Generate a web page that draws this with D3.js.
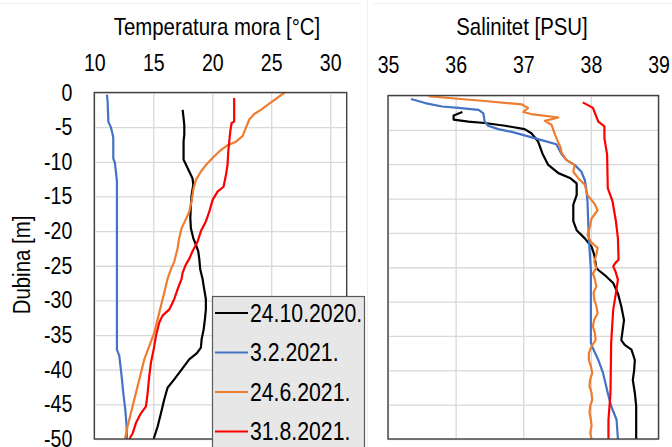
<!DOCTYPE html>
<html><head><meta charset="utf-8">
<script src="https://cdn.jsdelivr.net/npm/d3@7"></script>
<style>
html,body{margin:0;padding:0;background:#fff;}
svg text{font-family:"Liberation Sans",Arial,sans-serif;fill:#000;}
</style></head>
<body><svg id="c" width="672" height="447"></svg>
<script>
const seriesNames = ["24.10.2020.", "3.2.2021.", "24.6.2021.", "31.8.2021."];
const seriesColors = ["#000000", "#4472C4", "#ED7D31", "#FF0000"];
const tempTicks = [10, 15, 20, 25, 30];
const salTicks = [35, 36, 37, 38, 39];
const depthTicks = [0, -5, -10, -15, -20, -25, -30, -35, -40, -45, -50];

// [depth m, temperature °C]
const temp_24_10_2020 = [[-2.5,17.49],[-3.7,17.57],[-4.7,17.63],[-6.1,17.63],[-7,17.57],[-9.7,17.57],[-10.4,17.77],[-11.4,18.05],[-12.4,18.33],[-13.3,18.39],[-14.8,18.25],[-16.2,18.19],[-18.1,18.14],[-19.6,18.19],[-21,18.39],[-22,18.62],[-22.9,18.81],[-24,18.9],[-25.5,18.98],[-26.9,19.18],[-28.4,19.32],[-29.8,19.46],[-31.3,19.46],[-32.7,19.38],[-34.2,19.27],[-35.6,19.1],[-36.8,19.04],[-37.6,18.7],[-38.5,18.05],[-40,17.4],[-41.4,16.78],[-42.6,16.21],[-44.3,15.93],[-46.3,15.65],[-48.2,15.37],[-50,15.03]];
const temp_3_2_2021 = [[-0.3,11.07],[-1.3,11.13],[-4.2,11.19],[-5,11.4],[-6,11.55],[-6.6,11.61],[-9.5,11.61],[-10.2,11.75],[-12.8,11.92],[-25,11.92],[-37.1,11.92],[-38,12.12],[-41,12.32],[-43.4,12.46],[-45.8,12.63],[-48.2,12.74],[-50,12.77]];
const temp_24_6_2021 = [[0,26.16],[-0.4,25.82],[-1.1,25.25],[-1.8,24.69],[-2.5,24.12],[-3.1,23.56],[-3.9,23.14],[-5.1,22.85],[-6.3,22.57],[-7.1,22.01],[-7.6,21.3],[-8.3,20.73],[-9.2,20.17],[-10.2,19.6],[-11.4,19.04],[-12.6,18.62],[-13.8,18.42],[-15.7,18.25],[-17.2,18.05],[-18.6,17.68],[-19.6,17.4],[-21,17.2],[-22.5,17.06],[-24.4,16.78],[-25.5,16.5],[-26.9,16.21],[-28.9,15.93],[-30.8,15.65],[-32.7,15.37],[-34.7,15.08],[-36.6,14.66],[-38.5,14.24],[-40.5,13.95],[-42.4,13.67],[-44.3,13.39],[-46.2,13.11],[-48.2,12.82],[-50,12.6]];
const temp_31_8_2021 = [[-0.8,21.86],[-4.2,21.86],[-4.4,21.64],[-5.6,21.53],[-7.1,21.44],[-8.5,21.36],[-10.4,21.3],[-11.9,21.16],[-13.6,20.96],[-14.3,20.45],[-15.5,20.03],[-17.2,19.75],[-18.6,19.46],[-20,19.04],[-21.5,18.76],[-22.9,18.33],[-24,18.05],[-24.8,17.77],[-26,17.49],[-26.9,17.4],[-28.4,17.06],[-29.8,16.78],[-31.3,16.36],[-32.2,15.79],[-33.2,15.51],[-35.1,15.23],[-37.1,15.03],[-39,14.8],[-40.9,14.66],[-43.4,14.52],[-45.3,14.38],[-46.3,13.95],[-47.7,13.53],[-49.2,13.25],[-50,12.97]];

// [depth m, salinity PSU]
const sal_24_10_2020 = [[-2.4,36.1],[-2.9,35.97],[-3.5,35.97],[-3.8,36.19],[-4.0,36.43],[-4.4,36.73],[-4.9,37.02],[-5.5,37.12],[-6.7,37.22],[-8.6,37.29],[-10.1,37.37],[-11.3,37.52],[-12.0,37.69],[-12.8,37.79],[-14.5,37.79],[-15.9,37.74],[-18.3,37.74],[-19.6,37.79],[-20.8,37.91],[-22.0,38.01],[-23.2,38.05],[-25.1,38.08],[-25.4,38.11],[-26.1,38.2],[-27.3,38.33],[-28.8,38.4],[-30.7,38.45],[-32.7,38.49],[-35.6,38.45],[-36.3,38.5],[-37.0,38.6],[-38.5,38.65],[-40,38.64],[-41.4,38.62],[-43.3,38.65],[-45.2,38.67],[-50,38.67]];
const sal_3_2_2021 = [[-0.5,35.34],[-1.1,35.55],[-1.6,35.8],[-1.8,36.04],[-2.1,36.34],[-2.6,36.41],[-3.8,36.43],[-4.4,36.48],[-4.9,36.63],[-5.3,36.83],[-5.8,37.02],[-6.5,37.27],[-7.1,37.49],[-8.6,37.57],[-9.4,37.64],[-10.1,37.76],[-11.1,37.86],[-12.3,37.91],[-13.5,37.93],[-15.4,37.95],[-18.3,37.96],[-20.8,37.97],[-25.4,38.0],[-36,38.0],[-36.8,38.03],[-38.5,38.11],[-40.4,38.18],[-43.3,38.25],[-45.2,38.30],[-47.2,38.38],[-50,38.40]];
const sal_24_6_2021 = [[-0.1,35.6],[-0.4,35.94],[-0.8,36.43],[-1.3,36.98],[-1.8,37.07],[-2.4,37.0],[-2.7,37.12],[-3.2,37.52],[-3.7,37.32],[-4.3,37.42],[-5.7,37.47],[-6.9,37.52],[-7.5,37.55],[-8.4,37.57],[-9.4,37.64],[-10.1,37.76],[-11.1,37.74],[-12.0,37.81],[-13.0,37.91],[-14.5,37.95],[-15.7,38.05],[-16.7,38.1],[-17.9,38.01],[-19.3,37.98],[-20.3,37.95],[-21.3,38.0],[-22.2,38.1],[-23.2,38.08],[-24.2,38.05],[-25.1,38.08],[-25.9,38.03],[-26.8,38.06],[-27.8,38.08],[-28.7,38.04],[-29.7,38.05],[-30.6,38.08],[-31.7,38.1],[-32.6,38.05],[-33.6,38.03],[-34.6,38.06],[-35.6,38.07],[-36.5,38.01],[-37.5,37.97],[-38.5,37.97],[-39.4,38.0],[-40.4,38.02],[-41.3,37.99],[-42.3,37.98],[-43.3,38.01],[-44.3,38.02],[-45.2,37.99],[-46.2,37.98],[-47.2,38.0],[-48.1,38.01],[-49.1,37.99],[-50,38.01]];
const sal_31_8_2021 = [[-1.0,37.88],[-1.8,38.03],[-3.8,38.11],[-4.5,38.2],[-6.2,38.2],[-8.6,38.24],[-13.5,38.25],[-15.4,38.32],[-18.3,38.37],[-20.8,38.4],[-23.9,38.41],[-24.4,38.36],[-24.9,38.33],[-25.5,38.36],[-26.8,38.4],[-28.8,38.37],[-31.2,38.33],[-36,38.3],[-43.3,38.29],[-47.2,38.26],[-50,38.26]];

const tempSeries = [temp_24_10_2020, temp_3_2_2021, temp_24_6_2021, temp_31_8_2021];
const salSeries = [sal_24_10_2020, sal_3_2_2021, sal_24_6_2021, sal_31_8_2021];

const NX = 0.85; // horizontal condensing of text (narrow typeface look)
function narrowText(sel) {
  sel.each(function() {
    const t = d3.select(this);
    const x = +t.attr("x") || 0;
    const prev = t.attr("transform") || "";
    t.attr("x", x / NX).attr("transform", prev + ` scale(${NX},1)`);
  });
}

const svg = d3.select("#c");
svg.append("rect").attr("width",672).attr("height",447).attr("fill","#fff");
// faint chart-area borders
svg.append("line").attr("x1",0).attr("x2",360).attr("y1",3.5).attr("y2",3.5).attr("stroke","#f2f2f2");
svg.append("line").attr("x1",372).attr("x2",672).attr("y1",3.5).attr("y2",3.5).attr("stroke","#f2f2f2");
svg.append("line").attr("x1",367.5).attr("x2",367.5).attr("y1",0).attr("y2",447).attr("stroke","#efefef");

function panel(opts) {
  const x = d3.scaleLinear().domain(opts.xDomain).range([opts.left, opts.right]);
  const y = d3.scaleLinear().domain([0, -50]).range([opts.top, opts.bottom]);
  const g = svg.append("g");
  // grid
  const gx = d3.axisTop(x).tickValues(opts.xTicks).tickSize(-(opts.bottom - opts.top)).tickFormat("");
  g.append("g").attr("transform", `translate(0,${opts.top})`).call(gx)
    .call(s => s.select(".domain").remove())
    .call(s => s.selectAll("line").attr("stroke","#d9d9d9").attr("stroke-width",1.3));
  const gy = d3.axisLeft(y).tickValues(depthTicks).tickSize(-(opts.right - opts.left)).tickFormat("");
  g.append("g").attr("transform", `translate(${opts.left},0)`).call(gy)
    .call(s => s.select(".domain").remove())
    .call(s => s.selectAll("line").attr("stroke","#d9d9d9").attr("stroke-width",1.3));
  // x tick labels
  const ax = d3.axisTop(x).tickValues(opts.xTicks).tickSize(0).tickPadding(0).tickFormat(d => String(d));
  g.append("g").attr("transform", `translate(0,${opts.labelY})`).call(ax)
    .attr("font-family", null).attr("font-size", null)
    .call(s => s.select(".domain").remove())
    .call(s => s.selectAll("text").attr("font-size",23).attr("dy",0).attr("y",0).attr("dominant-baseline","central"))
    .call(s => narrowText(s.selectAll("text")));
  if (opts.yLabels) {
    const ay = d3.axisLeft(y).tickValues(depthTicks).tickSize(0).tickPadding(0).tickFormat(d => String(d));
    g.append("g").attr("transform", `translate(${opts.left - 22},0)`).call(ay)
      .attr("font-family", null).attr("font-size", null)
      .call(s => s.select(".domain").remove())
      .call(s => s.selectAll("text").attr("font-size",23).attr("dy",0).attr("x",0).attr("dominant-baseline","central"))
      .call(s => narrowText(s.selectAll("text")));
  }
  // lines
  const line = d3.line().x(d => x(d[1])).y(d => y(d[0]));
  opts.series.forEach((s, i) => {
    g.append("path").datum(s).attr("d", line).attr("fill","none")
      .attr("stroke", seriesColors[i]).attr("stroke-width",2.2).attr("stroke-linejoin","round");
  });
  // frame
  g.append("rect").attr("x",opts.left).attr("y",opts.top).attr("width",opts.right-opts.left)
    .attr("height",opts.bottom-opts.top).attr("fill","none").attr("stroke","#404040").attr("stroke-width",1.4);
  // title
  g.append("text").attr("x",opts.titleX).attr("y",27).attr("text-anchor","middle")
    .attr("dominant-baseline","central").attr("font-size",24).text(opts.title)
    .call(narrowText);
  return {x, y};
}

panel({xDomain:[10,31.4], left:94.3, right:346.7, top:92.5, bottom:439, xTicks:tempTicks,
  labelY:63, yLabels:true, series:tempSeries, title:"Temperatura mora [°C]", titleX:217});
panel({xDomain:[35,39], left:388, right:658.5, top:95.5, bottom:439, xTicks:salTicks,
  labelY:65, yLabels:false, series:salSeries, title:"Salinitet [PSU]", titleX:522});

// y axis title
svg.append("text").attr("transform","translate(22,265) rotate(-90)").attr("text-anchor","middle")
  .attr("dominant-baseline","central").attr("font-size",24).text("Dubina [m]")
  .call(narrowText);

// legend
const lg = svg.append("g");
lg.append("rect").attr("x",212.5).attr("y",296.5).attr("width",152).attr("height",170)
  .attr("fill","#e7e7e7").attr("stroke","#595959").attr("stroke-width",1.2);
seriesNames.forEach((n, i) => {
  const yy = 313 + i * 39.5;
  lg.append("line").attr("x1",215).attr("x2",248).attr("y1",yy).attr("y2",yy)
    .attr("stroke",seriesColors[i]).attr("stroke-width",2.2);
  lg.append("text").attr("x",250).attr("y",yy).attr("dominant-baseline","central")
    .attr("font-size",25).text(n).call(narrowText);
});
</script></body></html>
